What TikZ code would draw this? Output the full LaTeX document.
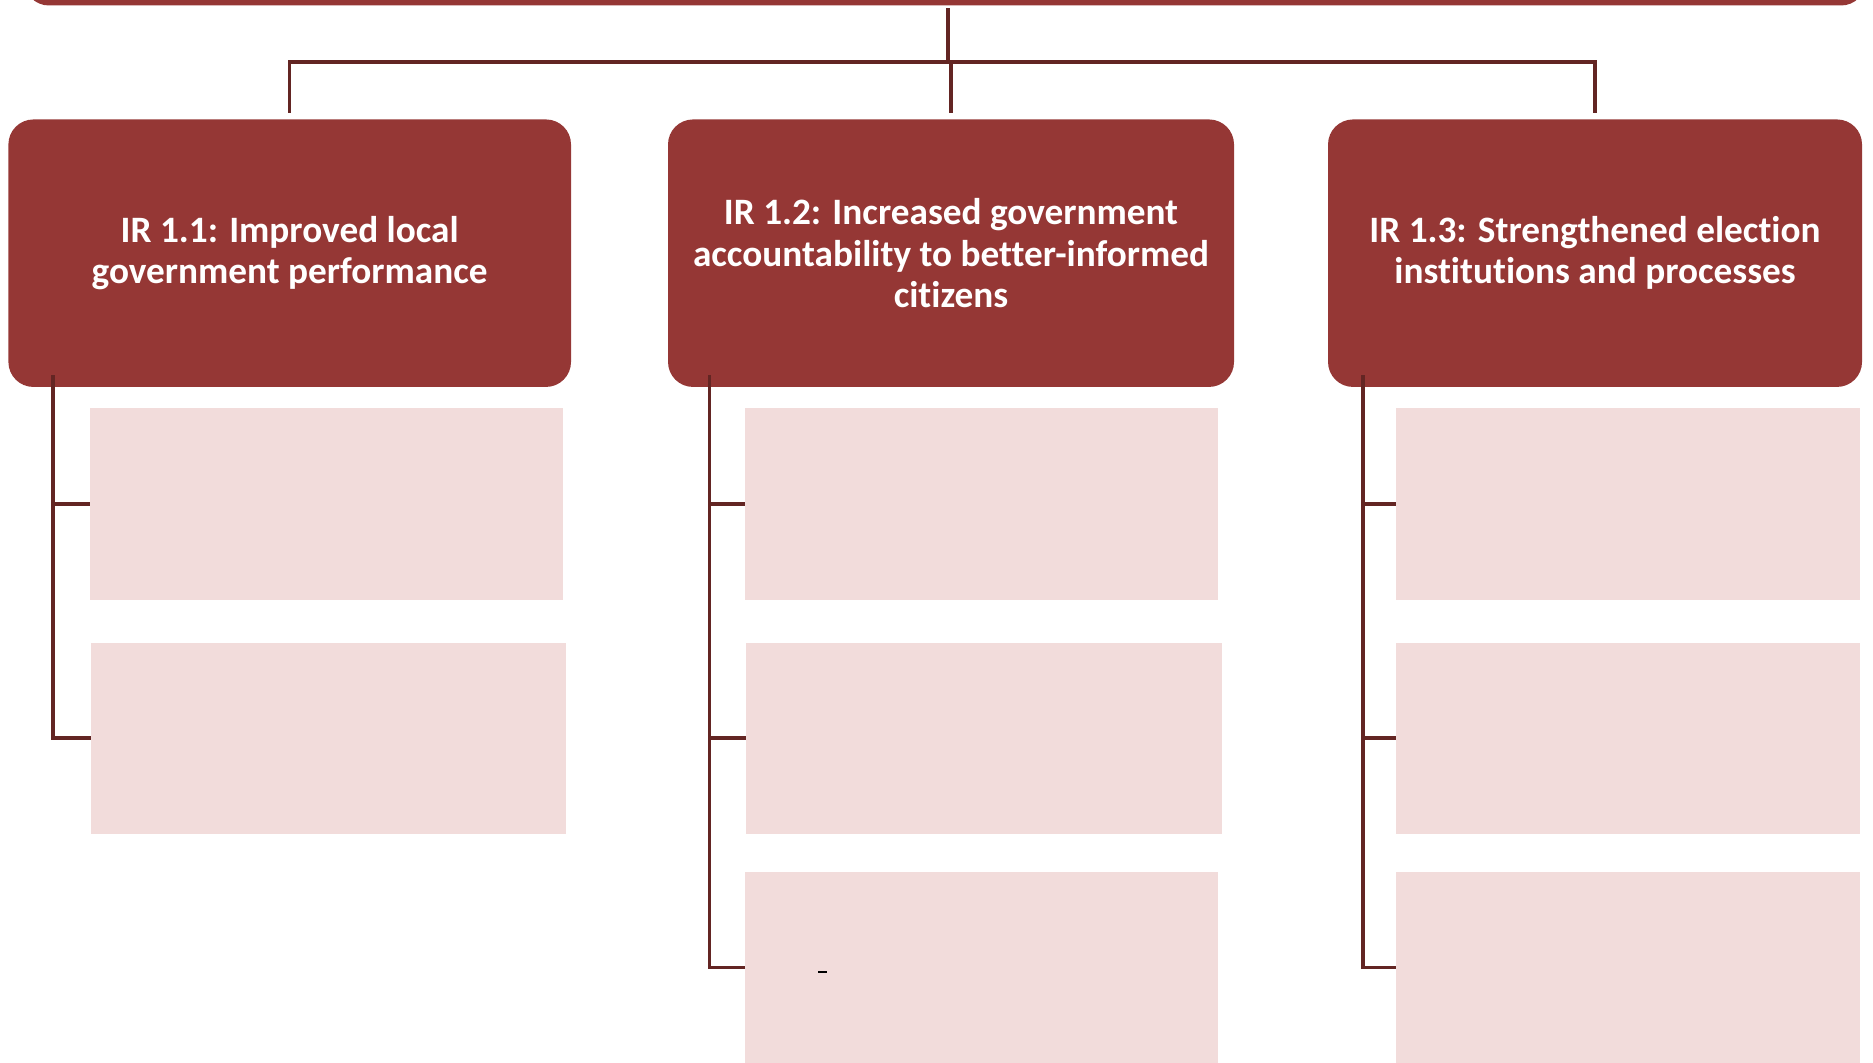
\documentclass[tikz,border=0pt]{standalone}
\usepackage{fontspec}
\setmainfont[Ligatures=NoCommon]{Carlito}
\definecolor{irred}{HTML}{953735}
\definecolor{subpink}{HTML}{F2DCDB}
\definecolor{linkred}{HTML}{632523}

\tikzset{every path/.style={line width=0.9pt}}

\begin{document}
\begin{tikzpicture}[x=0.1mm,y=-0.1mm]
    \useasboundingbox (0,0) rectangle (1873,1062);
    \tikzset{
      irbox/.style={rectangle,rounded corners=2.5mm,fill=irred,text=white,inner sep=0pt,
        minimum height=26.75mm,align=center,font=\bfseries\fontsize{10.6}{11.75}\selectfont},
      subbox/.style={rectangle,fill=subpink,inner sep=0pt,minimum height=19.1mm},
      link/.style={color=linkred,line cap=rect}
    }
    \node[rectangle,rounded corners=2.5mm,fill=irred,minimum width=184.2mm,minimum height=9.1mm,inner sep=0pt] (goal) at (945,-40) {};
    \node[irbox,minimum width=56.26mm] (ir1) at (289.7,253.2) {IR 1.1: Improved local\\government performance};
    \node[irbox,minimum width=56.6mm]  (ir2) at (951,253.2) {IR 1.2: Increased government\\accountability to better-informed\\citizens};
    \node[irbox,minimum width=53.4mm]  (ir3) at (1595,253.2) {IR 1.3: Strengthened election\\institutions and processes};
    \node[subbox,minimum width=47.3mm]  (a1) at (326.5,504) {};
    \node[subbox,minimum width=47.5mm]  (b1) at (328.5,738) {};
    \node[subbox,minimum width=47.3mm]  (a2) at (981.5,504) {};
    \node[subbox,minimum width=47.55mm] (b2) at (984.2,738) {};
    \node[subbox,minimum width=47.3mm]  (c2) at (981.5,967.5) {};
    \node[subbox,minimum width=46.4mm]  (a3) at (1628,504) {};
    \node[subbox,minimum width=46.4mm]  (b3) at (1628,738) {};
    \node[subbox,minimum width=46.4mm]  (c3) at (1628,967.5) {};
    \coordinate (hub) at (948,62);
    \coordinate (s1) at (53,377);
    \coordinate (s2) at (709.5,377);
    \coordinate (s3) at (1363,377);
    \path[link] ([yshift=-0.25mm]hub |- goal.south) edge (hub);
    \path[link] (hub -| ir1.north) edge (hub -| ir3.north);
    \path[link,shorten >=0.65mm] (hub -| ir1.north) edge (ir1.north);
    \path[link,shorten >=0.65mm] (hub -| ir2.north) edge (ir2.north);
    \path[link,shorten >=0.65mm] (hub -| ir3.north) edge (ir3.north);
    \draw[link] (s1) |- (a1.west);
    \draw[link] (s1) |- (b1.west);
    \draw[link] (s2) |- (a2.west);
    \draw[link] (s2) |- (b2.west);
    \draw[link] (s2) |- (c2.west);
    \draw[link] (s3) |- (a3.west);
    \draw[link] (s3) |- (b3.west);
    \draw[link] (s3) |- (c3.west);
    \draw[black,line width=0.6pt] (818,972) -- (827,972);
\end{tikzpicture}
\end{document}
